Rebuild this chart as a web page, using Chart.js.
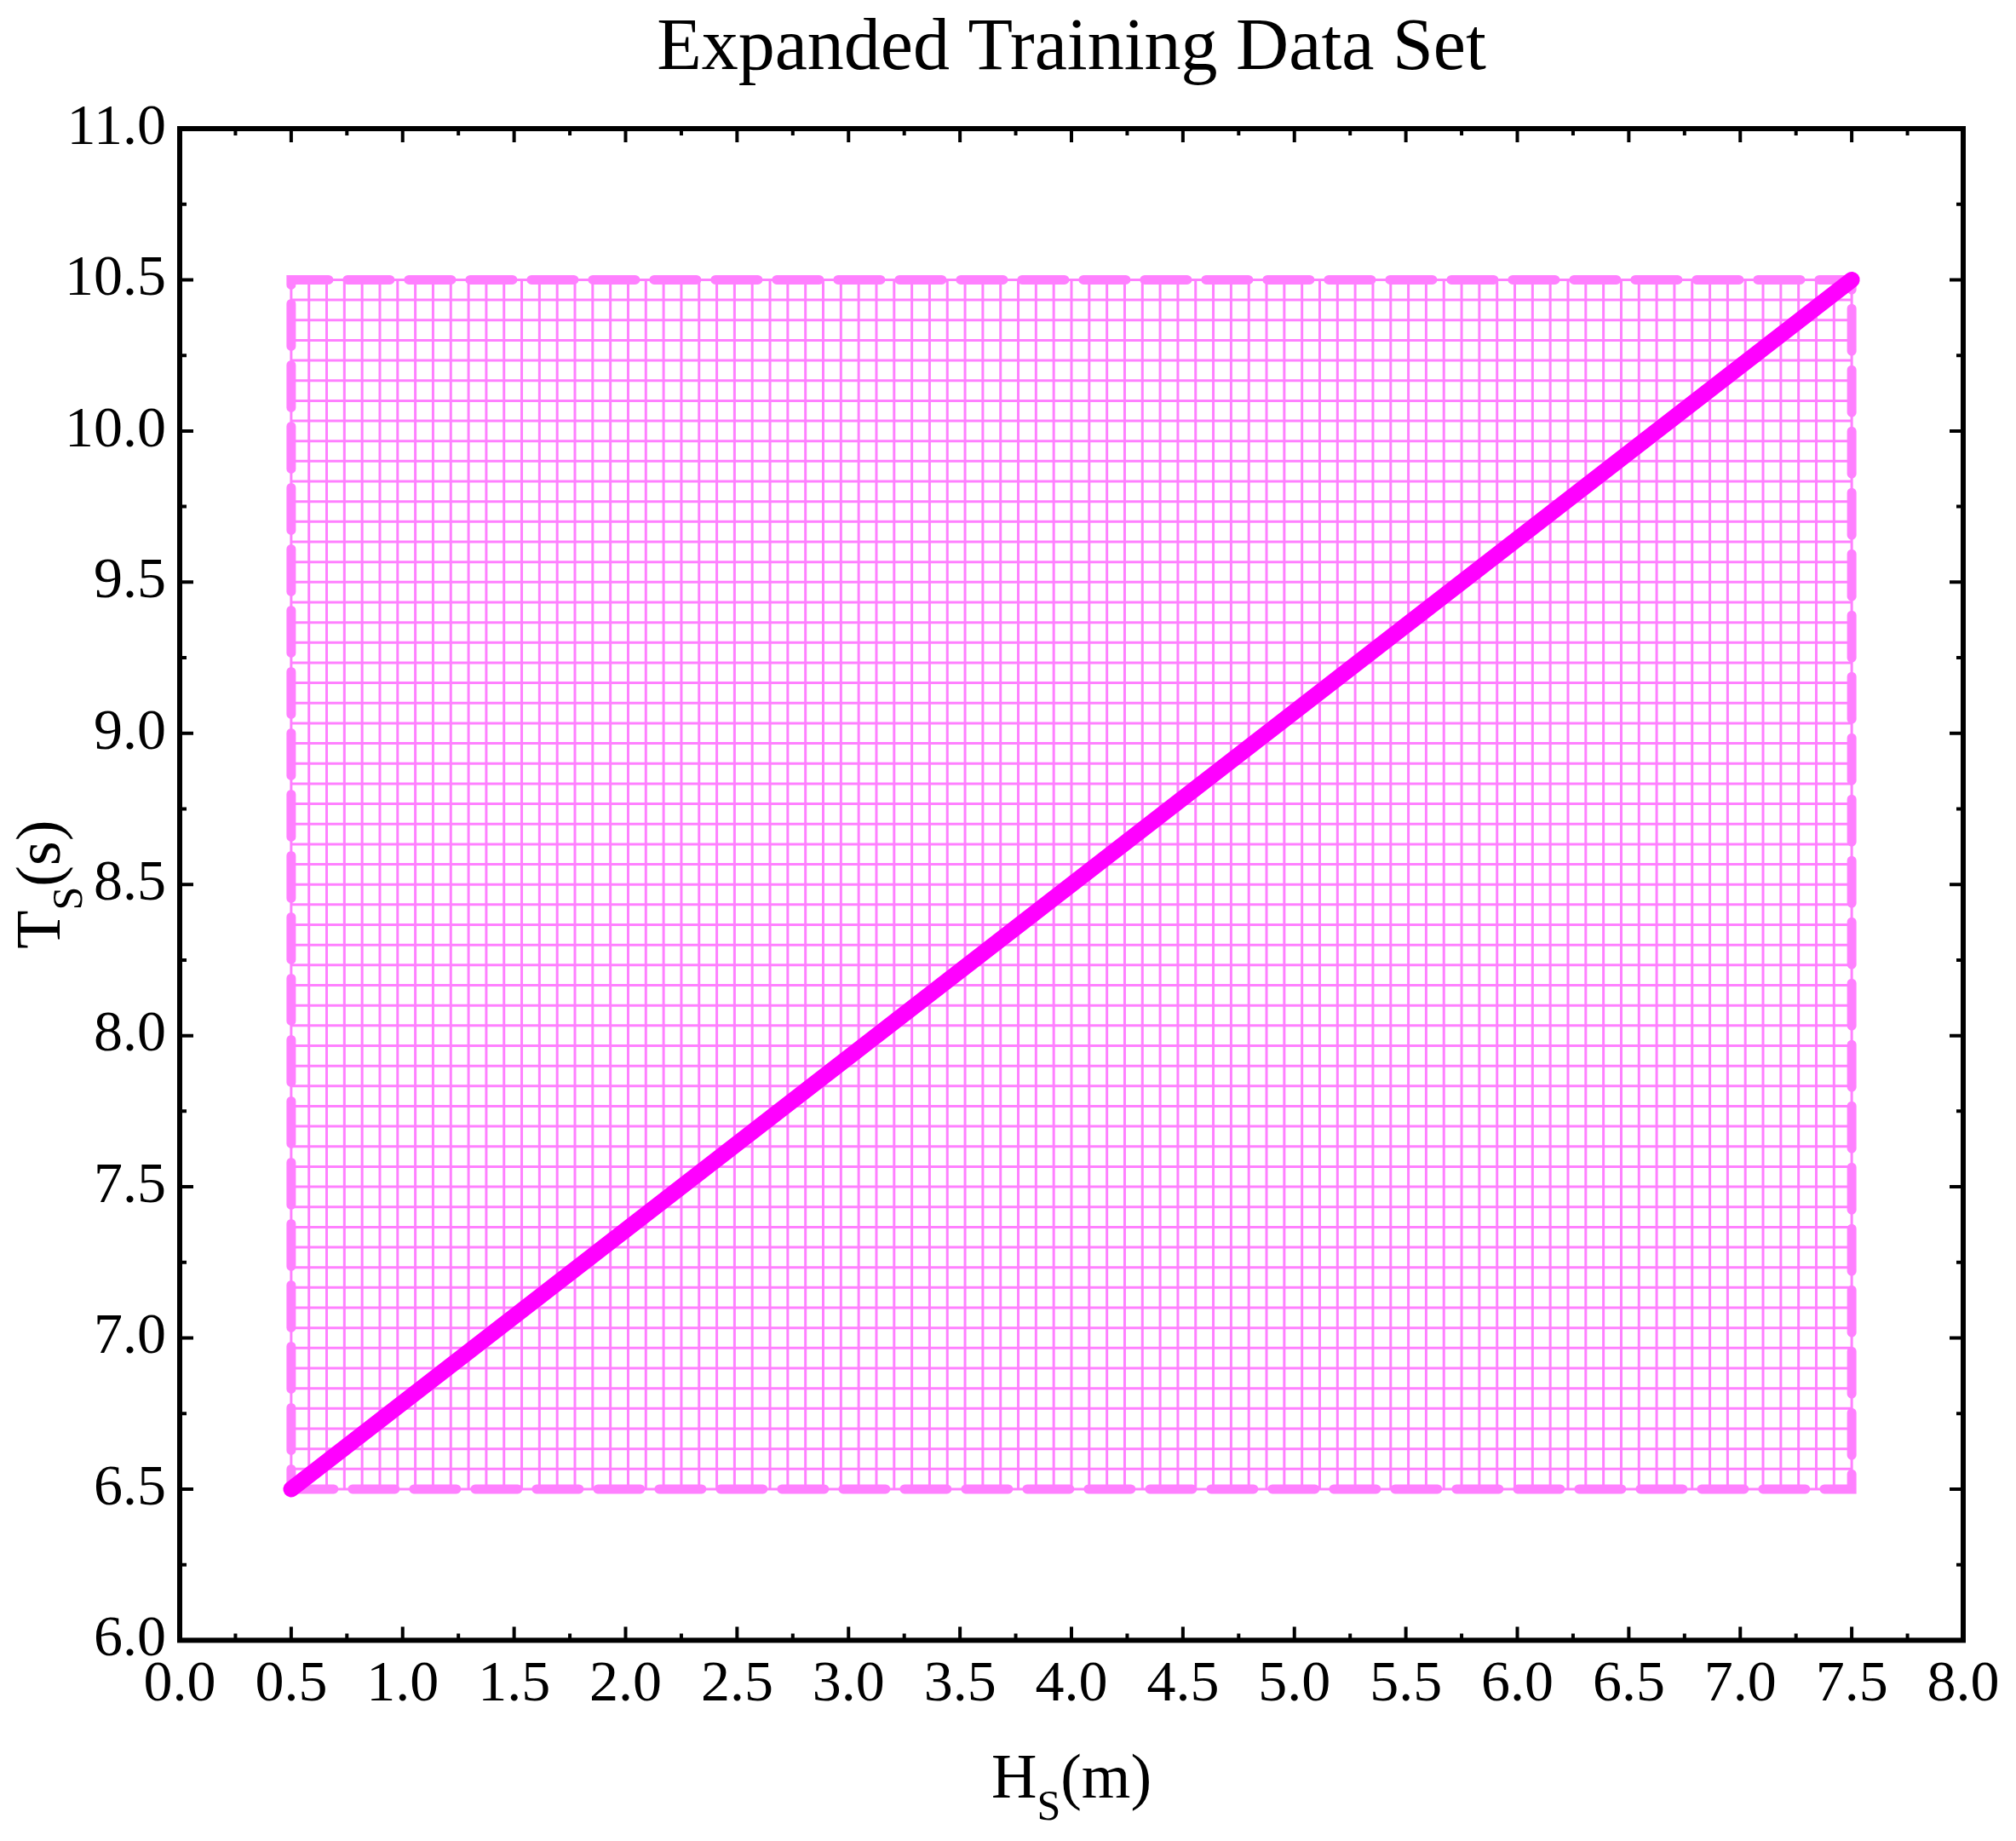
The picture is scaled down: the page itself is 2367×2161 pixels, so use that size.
<!DOCTYPE html>
<html>
<head>
<meta charset="utf-8">
<script src="https://cdn.jsdelivr.net/npm/chart.js@4"></script>
<style>body{margin:0;background:#fff}canvas{display:block}</style>
</head>
<body>
<canvas id="c" width="2367" height="2161" style="width:2367px;height:2161px"></canvas>
<script>
// data
var xTicks = [0.0,0.5,1.0,1.5,2.0,2.5,3.0,3.5,4.0,4.5,5.0,5.5,6.0,6.5,7.0,7.5,8.0];
var yTicks = [6.0,6.5,7.0,7.5,8.0,8.5,9.0,9.5,10.0,10.5,11.0];
var lineHs = [0.5, 7.5];
var lineTs = [6.5, 10.5];
var boxHs = [0.5, 7.5, 7.5, 0.5, 0.5];
var boxTs = [6.5, 6.5, 10.5, 10.5, 6.5];
var gridHsRange = [0.5, 7.5], gridHsCount = 88;
var gridTsRange = [6.5, 10.5], gridTsCount = 60;

var serif = "'Liberation Serif','DejaVu Serif',serif";
// chart.js paints the first dataset on top, so the thick line goes first
var datasets = [];
datasets.push({data:lineHs.map(function(v,k){return {x:v,y:lineTs[k]};}), borderColor:'#ff00ff', borderWidth:19, borderCapStyle:'round', pointRadius:0});
datasets.push({data:boxHs.map(function(v,k){return {x:v,y:boxTs[k]};}), borderColor:'#ff80ff', borderWidth:11, borderDash:[50,22], borderCapStyle:'round', pointRadius:0});
// mesh of training points drawn as thin lines
for (var i = 0; i <= gridHsCount; i++) {
  var x = gridHsRange[0] + (gridHsRange[1]-gridHsRange[0])*i/gridHsCount;
  datasets.push({data:[{x:x,y:gridTsRange[0]},{x:x,y:gridTsRange[1]}], borderColor:'#ff80ff', borderWidth:3, pointRadius:0});
}
for (var j = 0; j <= gridTsCount; j++) {
  var y = gridTsRange[0] + (gridTsRange[1]-gridTsRange[0])*j/gridTsCount;
  datasets.push({data:[{x:gridHsRange[0],y:y},{x:gridHsRange[1],y:y}], borderColor:'#ff80ff', borderWidth:3, pointRadius:0});
}

var frame = {
  id:'frame',
  afterDraw:function(ch){
    var a = ch.chartArea, c = ch.ctx, xs = ch.scales.x, ys = ch.scales.y;
    c.save();
    c.strokeStyle = '#000'; c.lineWidth = 6;
    c.strokeRect(a.left, a.top, a.right-a.left, a.bottom-a.top);
    c.lineWidth = 4;
    for (var v = 0; v <= 8.001; v += 0.25) {
      var px = xs.getPixelForValue(v), len = (Math.abs(v*2-Math.round(v*2))<1e-6) ? 16 : 8;
      c.beginPath(); c.moveTo(px,a.bottom); c.lineTo(px,a.bottom-len); c.moveTo(px,a.top); c.lineTo(px,a.top+len); c.stroke();
    }
    for (var w = 6; w <= 11.001; w += 0.25) {
      var py = ys.getPixelForValue(w), l2 = (Math.abs(w*2-Math.round(w*2))<1e-6) ? 16 : 8;
      c.beginPath(); c.moveTo(a.left,py); c.lineTo(a.left+l2,py); c.moveTo(a.right,py); c.lineTo(a.right-l2,py); c.stroke();
    }
    c.fillStyle = '#000';
    c.font = '86px ' + serif; c.textAlign = 'center'; c.textBaseline = 'middle';
    c.fillText('Expanded Training Data Set', (a.left+a.right)/2, 58);
    // x axis title H_S(m)
    var cx = (a.left+a.right)/2, by = 2110;
    c.textAlign = 'left'; c.textBaseline = 'alphabetic';
    c.font = '74px ' + serif; var wH = c.measureText('H').width;
    c.font = '50px ' + serif; var wS = c.measureText('S').width;
    c.font = '74px ' + serif; var wM = c.measureText('(m)').width;
    var sx = cx - (wH+wS+wM)/2;
    c.fillText('H', sx, by); c.font = '50px ' + serif; c.fillText('S', sx+wH, by+26);
    c.font = '74px ' + serif; c.fillText('(m)', sx+wH+wS, by);
    // y axis title T_S(s)
    c.translate(70, (a.top+a.bottom)/2); c.rotate(-Math.PI/2);
    var wT = c.measureText('T').width, wP = c.measureText('(s)').width;
    var tx = -(wT+wS+wP)/2;
    c.fillText('T', tx, 0); c.font = '50px ' + serif; c.fillText('S', tx+wT, 26);
    c.font = '74px ' + serif; c.fillText('(s)', tx+wT+wS, 0);
    c.restore();
  }
};

new Chart(document.getElementById('c'), {
  type:'line',
  data:{datasets:datasets},
  options:{
    responsive:false, animation:false, devicePixelRatio:1,
    layout:{padding:{top:151, right:62, bottom:138, left:0}},
    plugins:{legend:{display:false}, tooltip:{enabled:false}},
    scales:{
      x:{type:'linear', min:0, max:8,
         afterBuildTicks:function(s){s.ticks = xTicks.map(function(v){return {value:v};});},
         grid:{display:false}, border:{display:false},
         ticks:{color:'#000', font:{family:serif, size:68}, padding:4, maxRotation:0, autoSkip:false,
                callback:function(v){return Number(v).toFixed(1);}}},
      y:{type:'linear', min:6, max:11,
         afterBuildTicks:function(s){s.ticks = yTicks.map(function(v){return {value:v};});},
         grid:{display:false}, border:{display:false},
         ticks:{color:'#000', font:{family:serif, size:68}, padding:8, autoSkip:false,
                callback:function(v){return Number(v).toFixed(1);}},
         afterFit:function(s){s.width = 211;}}
    }
  },
  plugins:[frame]
});
</script>
</body>
</html>
